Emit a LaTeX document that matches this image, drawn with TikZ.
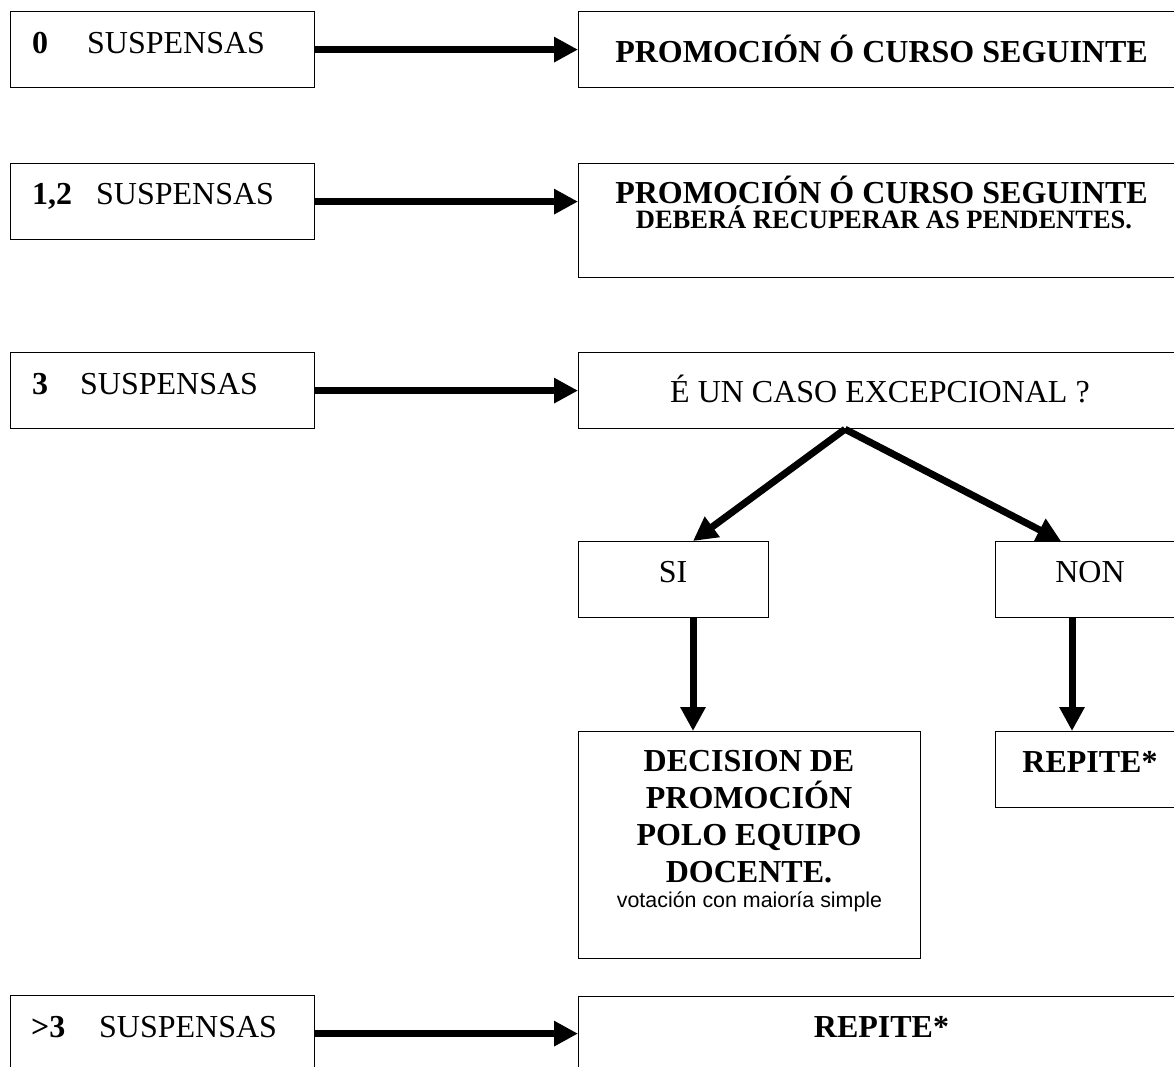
\documentclass[tikz,border=0pt]{standalone}
\usepackage{fontspec}
\setmainfont{Liberation Serif}
\newfontfamily\arialf{Liberation Sans}
\usetikzlibrary{arrows.meta}
\begin{document}
\begin{tikzpicture}[x=1pt,y=-1pt,
  box/.style={draw,line width=1.2pt,rectangle,inner sep=0pt,anchor=north west},
  txt/.style={inner sep=0pt,anchor=base,font=\fontsize{32}{37}\selectfont},
  smalltxt/.style={inner sep=0pt,anchor=base,font=\fontsize{26.5}{30}\selectfont\bfseries},
  arialtxt/.style={inner sep=0pt,anchor=base,font=\fontsize{21.4}{25}\arialf},
  arr/.style={line width=7pt,-{Triangle[length=24pt,width=24pt]}}]
\useasboundingbox (0,0) rectangle (1174,1066);

% left boxes
\node[box,minimum width=304pt,minimum height=76pt] (l1) at (10,11) {};
\node[box,minimum width=304pt,minimum height=76pt] (l2) at (10,163) {};
\node[box,minimum width=304pt,minimum height=76pt] (l3) at (10,352) {};
\node[box,minimum width=304pt,minimum height=76pt] (l4) at (10,995) {};
\node[txt,anchor=base west] (l1t) at (32,53) {\makebox[55pt][l]{\bfseries 0}SUSPENSAS};
\node[txt,anchor=base west] (l2t) at (32,204) {\makebox[64pt][l]{\bfseries 1,2}SUSPENSAS};
\node[txt,anchor=base west] (l3t) at (32,394) {\makebox[48pt][l]{\bfseries 3}SUSPENSAS};
\node[txt,anchor=base west] (l4t) at (31,1037) {\makebox[68pt][l]{\bfseries >3}SUSPENSAS};

% right boxes
\node[box,minimum width=607pt,minimum height=76pt] (r1) at (578,11) {};
\node[box,minimum width=607pt,minimum height=114pt] (r2) at (578,163) {};
\node[box,minimum width=607pt,minimum height=76pt] (r3) at (578,352) {};
\node[box,minimum width=607pt,minimum height=76pt] (r4) at (578,996) {};
\node[txt] (r1t) at (881.5,62) {\bfseries PROMOCIÓN Ó CURSO SEGUINTE};
\node[txt] (r2t) at (881.5,203) {\bfseries PROMOCIÓN Ó CURSO SEGUINTE};
\node[smalltxt] (r2s) at (884,228) {DEBERÁ RECUPERAR AS PENDENTES.};
\node[txt] (r3t) at (880,402) {É UN CASO EXCEPCIONAL ?};
\node[txt] (r4t) at (881.5,1037) {\bfseries REPITE*};

% decision tree
\node[box,minimum width=190pt,minimum height=76pt] (si) at (578,541) {};
\node[box,minimum width=190pt,minimum height=76pt] (non) at (995,541) {};
\node[box,minimum width=342pt,minimum height=227pt] (dec) at (578,731) {};
\node[box,minimum width=190pt,minimum height=76pt] (rep) at (995,731) {};
\node[txt] (sit) at (673,582) {SI};
\node[txt] (nont) at (1090,582) {NON};
\node[txt] (rept) at (1090,772) {\bfseries REPITE*};
\node[txt] (dec1) at (749,771) {\bfseries DECISION DE};
\node[txt] (dec2) at (749,808) {\bfseries PROMOCIÓN};
\node[txt] (dec3) at (749,845) {\bfseries POLO EQUIPO};
\node[txt] (dec4) at (749,882) {\bfseries DOCENTE.};
\node[arialtxt] (dec5) at (749.5,907) {votación con maioría simple};

% arrows
\draw[arr] (l1.east) -- (l1.east -| r1.west);
\draw[arr] (l2.east) -- (l2.east -| r2.west);
\draw[arr] (l3.east) -- (l3.east -| r3.west);
\draw[arr] (l4.east) -- (l4.east -| r4.west);
\coordinate (apex) at ([xshift=267pt]r3.south west);
\draw[arr] (apex) -- ([xshift=115pt]si.north west);
\draw[arr] (apex) -- ([xshift=66pt]non.north west);
\draw[arr] ([xshift=115pt]si.south west) -- ([xshift=115pt]dec.north west);
\draw[arr] ([xshift=77pt]non.south west) -- ([xshift=77pt]rep.north west);
\end{tikzpicture}
\end{document}
